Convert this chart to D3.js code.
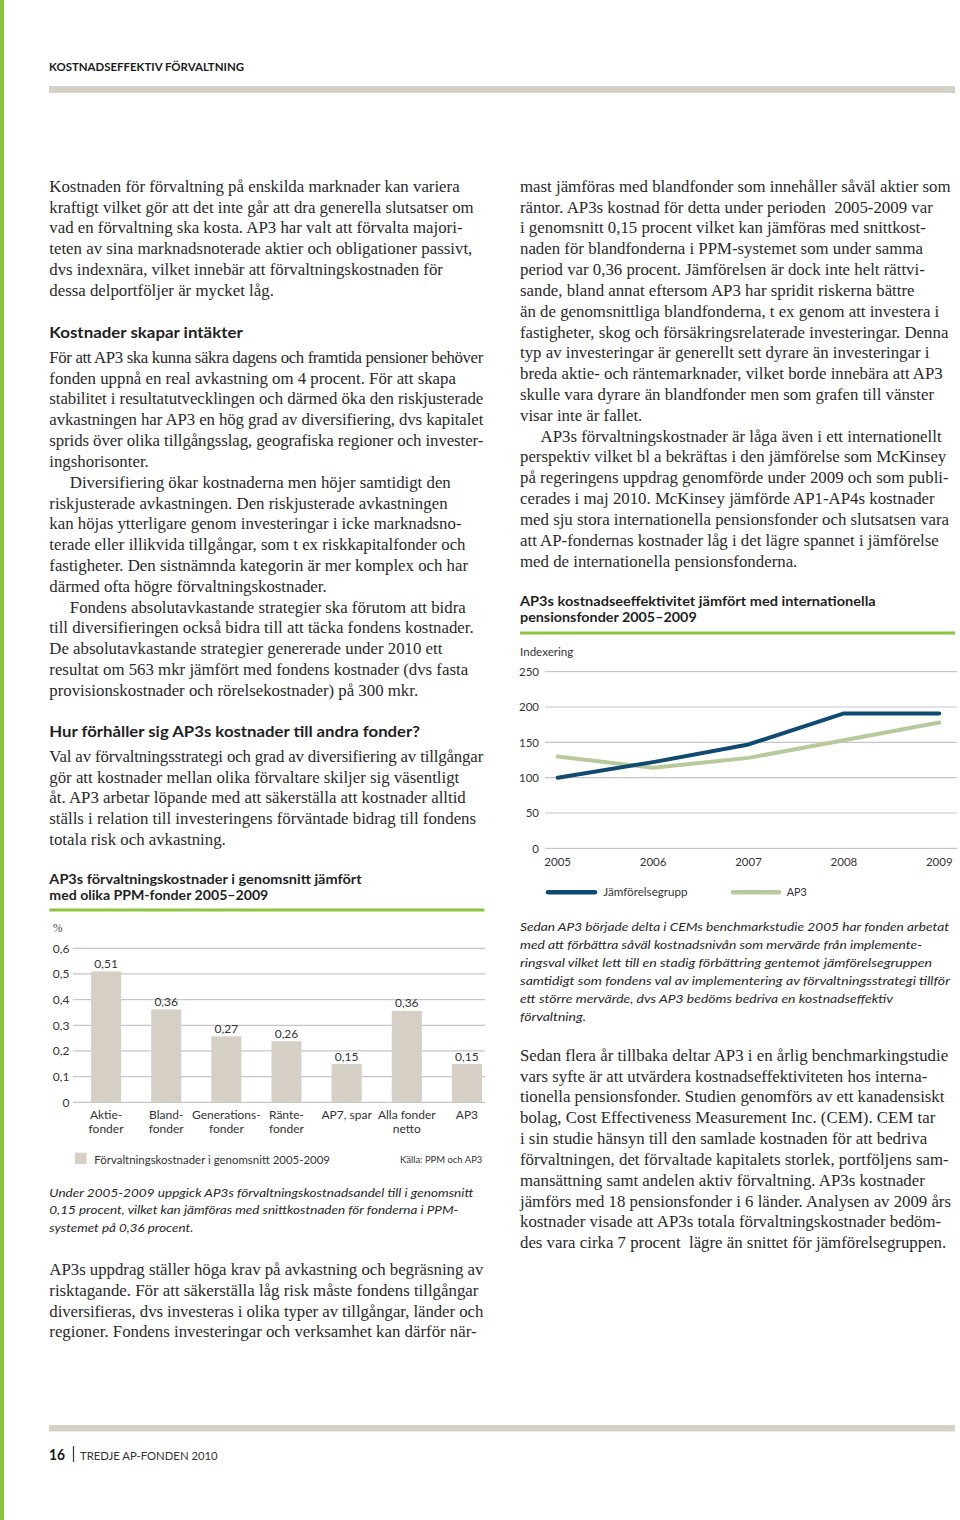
<!DOCTYPE html>
<html><head><meta charset="utf-8">
<script src="https://cdn.jsdelivr.net/npm/d3@7"></script>
<style>body{margin:0;background:#fff} svg{display:block} text{white-space:pre}</style>
</head><body>
<script>
// ---------- DATA ----------
const barCategories = [["Aktie-","fonder"],["Bland-","fonder"],["Generations-","fonder"],["Ränte-","fonder"],["AP7, spar"],["Alla fonder","netto"],["AP3"]];
const barValues = [0.51, 0.362, 0.257, 0.238, 0.149, 0.356, 0.149];
const barValueLabels = ["0,51","0,36","0,27","0,26","0,15","0,36","0,15"];
const barTicks = [0, 0.1, 0.2, 0.3, 0.4, 0.5, 0.6];
const barTickLabels = ["0","0,1","0,2","0,3","0,4","0,5","0,6"];

const years = ["2005","2006","2007","2008","2009"];
const jamforelsegrupp = [100, 122, 147, 191, 191];
const ap3Index = [130, 114, 128, 153, 178];
const lineTicks = [0, 50, 100, 150, 200, 250];

// ---------- TEXT ----------
const leftP1 = ["Kostnaden för förvaltning på enskilda marknader kan variera",
"kraftigt vilket gör att det inte går att dra generella slutsatser om",
"vad en förvaltning ska kosta. AP3 har valt att förvalta majori-",
"teten av sina marknadsnoterade aktier och obligationer passivt,",
"dvs indexnära, vilket innebär att förvaltningskostnaden för",
"dessa delportföljer är mycket låg."];
const leftP2 = ["För att AP3 ska kunna säkra dagens och framtida pensioner behöver",
"fonden uppnå en real avkastning om 4 procent. För att skapa",
"stabilitet i resultatutvecklingen och därmed öka den riskjusterade",
"avkastningen har AP3 en hög grad av diversifiering, dvs kapitalet",
"sprids över olika tillgångsslag, geografiska regioner och invester-",
"ingshorisonter.",
"\tDiversifiering ökar kostnaderna men höjer samtidigt den",
"riskjusterade avkastningen. Den riskjusterade avkastningen",
"kan höjas ytterligare genom investeringar i icke marknadsno-",
"terade eller illikvida tillgångar, som t ex riskkapitalfonder och",
"fastigheter. Den sistnämnda kategorin är mer komplex och har",
"därmed ofta högre förvaltningskostnader.",
"\tFondens absolutavkastande strategier ska förutom att bidra",
"till diversifieringen också bidra till att täcka fondens kostnader.",
"De absolutavkastande strategier genererade under 2010 ett",
"resultat om 563 mkr jämfört med fondens kostnader (dvs fasta",
"provisionskostnader och rörelsekostnader) på 300 mkr."];
const leftP3 = ["Val av förvaltningsstrategi och grad av diversifiering av tillgångar",
"gör att kostnader mellan olika förvaltare skiljer sig väsentligt",
"åt. AP3 arbetar löpande med att säkerställa att kostnader alltid",
"ställs i relation till investeringens förväntade bidrag till fondens",
"totala risk och avkastning."];
const leftP4 = ["AP3s uppdrag ställer höga krav på avkastning och begräsning av",
"risktagande. För att säkerställa låg risk måste fondens tillgångar",
"diversifieras, dvs investeras i olika typer av tillgångar, länder och",
"regioner. Fondens investeringar och verksamhet kan därför när-"];
const rightP1 = ["mast jämföras med blandfonder som innehåller såväl aktier som",
"räntor. AP3s kostnad för detta under perioden  2005-2009 var",
"i genomsnitt 0,15 procent vilket kan jämföras med snittkost-",
"naden för blandfonderna i PPM-systemet som under samma",
"period var 0,36 procent. Jämförelsen är dock inte helt rättvi-",
"sande, bland annat eftersom AP3 har spridit riskerna bättre",
"än de genomsnittliga blandfonderna, t ex genom att investera i",
"fastigheter, skog och försäkringsrelaterade investeringar. Denna",
"typ av investeringar är generellt sett dyrare än investeringar i",
"breda aktie- och räntemarknader, vilket borde innebära att AP3",
"skulle vara dyrare än blandfonder men som grafen till vänster",
"visar inte är fallet.",
"\tAP3s förvaltningskostnader är låga även i ett internationellt",
"perspektiv vilket bl a bekräftas i den jämförelse som McKinsey",
"på regeringens uppdrag genomförde under 2009 och som publi-",
"cerades i maj 2010. McKinsey jämförde AP1-AP4s kostnader",
"med sju stora internationella pensionsfonder och slutsatsen vara",
"att AP-fondernas kostnader låg i det lägre spannet i jämförelse",
"med de internationella pensionsfonderna."];
const rightP2 = ["Sedan flera år tillbaka deltar AP3 i en årlig benchmarkingstudie",
"vars syfte är att utvärdera kostnadseffektiviteten hos interna-",
"tionella pensionsfonder. Studien genomförs av ett kanadensiskt",
"bolag, Cost Effectiveness Measurement Inc. (CEM). CEM tar",
"i sin studie hänsyn till den samlade kostnaden för att bedriva",
"förvaltningen, det förvaltade kapitalets storlek, portföljens sam-",
"mansättning samt andelen aktiv förvaltning. AP3s kostnader",
"jämförs med 18 pensionsfonder i 6 länder. Analysen av 2009 års",
"kostnader visade att AP3s totala förvaltningskostnader bedöm-",
"des vara cirka 7 procent  lägre än snittet för jämförelsegruppen."];
const barCaption = [["Under 2005-2009 uppgick AP3s förvaltningskostnadsandel till i genomsnitt",424],
["0,15 procent, vilket kan jämföras med snittkostnaden för fonderna i PPM-",409],
["systemet på 0,36 procent.",144]];
const lineCaption = [["Sedan AP3 började delta i CEMs benchmarkstudie 2005 har fonden arbetat",429],
["med att förbättra såväl kostnadsnivån som mervärde från implemente-",402],
["ringsval vilket lett till en stadig förbättring gentemot jämförelsegruppen",412],
["samtidigt som fondens val av implementering av förvaltningsstrategi tillför",430],
["ett större mervärde, dvs AP3 bedöms bedriva en kostnadseffektiv",373],
["förvaltning.",66]];

// ---------- SETUP ----------
const W = 960, H = 1520;
const svg = d3.select("body").append("svg").attr("width", W).attr("height", H);
const SANS = "Lato, 'Open Sans', sans-serif";
const SERIF = "'Liberation Serif', 'DejaVu Serif', serif";
const GREEN = "#8cc540", RULE = "#d6d1c6", TXT = "#262626";

function label(g, x, y, s, o = {}) {
  const t = g.append("text").attr("x", x).attr("y", y).text(s)
    .attr("font-family", o.family || SANS).attr("font-size", o.size || 12)
    .attr("fill", o.fill || TXT);
  if (o.weight) t.attr("font-weight", o.weight);
  if (o.style) t.attr("font-style", o.style);
  if (o.anchor) t.attr("text-anchor", o.anchor);
  if (o.w) t.attr("textLength", o.w).attr("lengthAdjust", "spacingAndGlyphs");
  return t;
}

// page decorations
svg.append("rect").attr("x", 0).attr("y", 0).attr("width", 4).attr("height", H).attr("fill", GREEN);
label(svg, 49, 71, "KOSTNADSEFFEKTIV FÖRVALTNING", {size: 11, weight: 700, w: 195, fill: "#1a1a1a"});
svg.append("rect").attr("x", 49).attr("y", 86).attr("width", 906).attr("height", 7).attr("fill", RULE);
svg.append("rect").attr("x", 49).attr("y", 1425).attr("width", 906).attr("height", 6.5).attr("fill", RULE);
label(svg, 49, 1459.5, "16", {size: 15, weight: 700, w: 16, fill: "#1a1a1a"});
svg.append("line").attr("x1", 73.5).attr("x2", 73.5).attr("y1", 1446).attr("y2", 1462).attr("stroke", "#333").attr("stroke-width", 1.2);
label(svg, 80, 1459.5, "TREDJE AP-FONDEN 2010", {size: 11, w: 137.7, fill: "#333"});

// ---------- BODY TEXT ----------
const LH = 20.83;
const probe = svg.append("text").attr("font-family", SERIF).attr("font-size", 16);
const calib = [[leftP1[0], 412.4], [rightP1[0], 428], [rightP2[0], 431], [leftP4[0], 434]];
let mSum = 0, tSum = 0;
calib.forEach(([s, w]) => { probe.text(s); mSum += probe.node().getComputedTextLength(); tSum += w; });
probe.remove();
const bodySize = 16 * tSum / mSum;

function para(lines, x, y0, maxW) {
  lines.forEach((s, i) => {
    const ind = s.startsWith("\t");
    const t = label(svg, x + (ind ? 20.5 : 0), y0 + i * LH, ind ? s.slice(1) : s,
      {family: SERIF, size: bodySize, fill: "#2a2a2a"});
    const lim = maxW - (ind ? 20.5 : 0);
    if (t.node().getComputedTextLength() > lim) t.attr("textLength", lim).attr("lengthAdjust", "spacing");
  });
}
para(leftP1, 49.3, 191.7, 434);
label(svg, 49.3, 337.7, "Kostnader skapar intäkter", {size: 15.5, weight: 700, w: 193.4, fill: "#1f1f1f"});
para(leftP2, 49.3, 362.7, 434);
label(svg, 49.3, 736.5, "Hur förhåller sig AP3s kostnader till andra fonder?", {size: 15.5, weight: 700, w: 370.7, fill: "#1f1f1f"});
para(leftP3, 49.3, 761.7, 434);
para(leftP4, 49.3, 1275, 434);
para(rightP1, 520, 191.7, 431);
para(rightP2, 520, 1060.7, 431);

// ---------- BAR CHART ----------
const gb = svg.append("g");
label(gb, 49.3, 884, "AP3s förvaltningskostnader i genomsnitt jämfört", {size: 14, weight: 700, w: 312.4, fill: "#1f1f1f"});
label(gb, 49.3, 900, "med olika PPM-fonder 2005–2009", {size: 14, weight: 700, w: 219, fill: "#1f1f1f"});
gb.append("rect").attr("x", 49.3).attr("y", 908.5).attr("width", 435).attr("height", 3).attr("fill", GREEN);
label(gb, 53, 932, "%", {family: SERIF, size: 11.5, fill: "#444"});

const yb = d3.scaleLinear().domain([0, 0.6]).range([1102.3, 948.3]);
const xb = d3.scaleBand().domain(d3.range(barValues.length)).range([76, 497]).paddingInner(0.5).paddingOuter(0.25);
const BARC = "#d5cfc5";

gb.append("g").selectAll("line").data(barTicks).join("line")
  .attr("x1", 73).attr("x2", 485).attr("y1", d => yb(d)).attr("y2", d => yb(d))
  .attr("stroke", "#c6c6c6").attr("stroke-width", 1.2);
gb.append("g").selectAll("text").data(barTicks).join("text")
  .attr("x", 69.5).attr("y", d => yb(d) + 4.2).attr("text-anchor", "end")
  .attr("font-family", SANS).attr("font-size", 12).attr("fill", "#333")
  .text((d, i) => barTickLabels[i]);
gb.append("g").selectAll("rect").data(barValues).join("rect")
  .attr("x", (d, i) => xb(i)).attr("width", xb.bandwidth())
  .attr("y", d => yb(d)).attr("height", d => yb(0) - yb(d)).attr("fill", BARC);
gb.append("g").selectAll("text").data(barValues).join("text")
  .attr("x", (d, i) => xb(i) + xb.bandwidth() / 2).attr("y", d => yb(d) - 3.5)
  .attr("text-anchor", "middle").attr("font-family", SANS).attr("font-size", 12).attr("fill", "#333")
  .text((d, i) => barValueLabels[i]);
const catG = gb.append("g").selectAll("text").data(barCategories).join("text")
  .attr("text-anchor", "middle").attr("font-family", SANS).attr("font-size", 12).attr("fill", "#333");
catG.each(function(lines, i) {
  const cx = xb(i) + xb.bandwidth() / 2;
  d3.select(this).selectAll("tspan").data(lines).join("tspan")
    .attr("x", cx).attr("y", (d, j) => 1119.3 + j * 13.4).text(d => d);
});
gb.append("rect").attr("x", 75).attr("y", 1152.7).attr("width", 11.7).attr("height", 11.3).attr("fill", BARC);
label(gb, 94.3, 1164, "Förvaltningskostnader i genomsnitt 2005-2009", {size: 12, w: 235.7, fill: "#333"});
label(gb, 400, 1162.7, "Källa: PPM och AP3", {size: 10, w: 82.3, fill: "#333"});
barCaption.forEach(([s, w], i) => label(gb, 49.3, 1196.5 + i * 17.5, s, {size: 12.3, style: "italic", w: w, fill: "#262626"}));

// ---------- LINE CHART ----------
const gl = svg.append("g");
label(gl, 520, 605.7, "AP3s kostnadseeffektivitet jämfört med internationella", {size: 14, weight: 700, w: 355.7, fill: "#1f1f1f"});
label(gl, 520, 622.3, "pensionsfonder 2005–2009", {size: 14, weight: 700, w: 176.7, fill: "#1f1f1f"});
gl.append("rect").attr("x", 520).attr("y", 631.5).attr("width", 435).attr("height", 3).attr("fill", GREEN);
label(gl, 520, 655.7, "Indexering", {size: 11.5, w: 53.3, fill: "#333"});

const yl = d3.scaleLinear().domain([0, 250]).range([848.3, 671.7]);
const xl = d3.scalePoint().domain(years).range([557.7, 939.3]);
gl.append("g").selectAll("line").data(lineTicks).join("line")
  .attr("x1", 545).attr("x2", 957).attr("y1", d => yl(d)).attr("y2", d => yl(d))
  .attr("stroke", "#c6c6c6").attr("stroke-width", 1.2);
gl.append("g").selectAll("text").data(lineTicks).join("text")
  .attr("x", 539).attr("y", d => yl(d) + 4.2).attr("text-anchor", "end")
  .attr("font-family", SANS).attr("font-size", 11.5).attr("fill", "#333").text(d => d);
gl.append("g").selectAll("text").data(years).join("text")
  .attr("x", d => xl(d)).attr("y", 866).attr("text-anchor", "middle")
  .attr("font-family", SANS).attr("font-size", 11.5).attr("fill", "#333").text(d => d);

const NAVY = "#0f4a73", SAGE = "#b7ca9b";
const lineGen = d3.line().x((d, i) => xl(years[i])).y(d => yl(d));
gl.append("path").datum(ap3Index).attr("d", lineGen).attr("fill", "none")
  .attr("stroke", SAGE).attr("stroke-width", 4).attr("stroke-linecap", "round").attr("stroke-linejoin", "round");
gl.append("path").datum(jamforelsegrupp).attr("d", lineGen).attr("fill", "none")
  .attr("stroke", NAVY).attr("stroke-width", 4).attr("stroke-linecap", "round").attr("stroke-linejoin", "round");

gl.append("line").attr("x1", 548).attr("x2", 595).attr("y1", 892.3).attr("y2", 892.3)
  .attr("stroke", NAVY).attr("stroke-width", 4.5).attr("stroke-linecap", "round");
label(gl, 603.3, 896.3, "Jämförelsegrupp", {size: 11.5, w: 84.3, fill: "#333"});
gl.append("line").attr("x1", 733).attr("x2", 779).attr("y1", 892.3).attr("y2", 892.3)
  .attr("stroke", SAGE).attr("stroke-width", 4.5).attr("stroke-linecap", "round");
label(gl, 786.7, 896.3, "AP3", {size: 11.5, w: 20, fill: "#333"});

lineCaption.forEach(([s, w], i) => label(gl, 520, 930.7 + i * 18, s, {size: 12.3, style: "italic", w: w, fill: "#262626"}));
</script>
</body></html>
